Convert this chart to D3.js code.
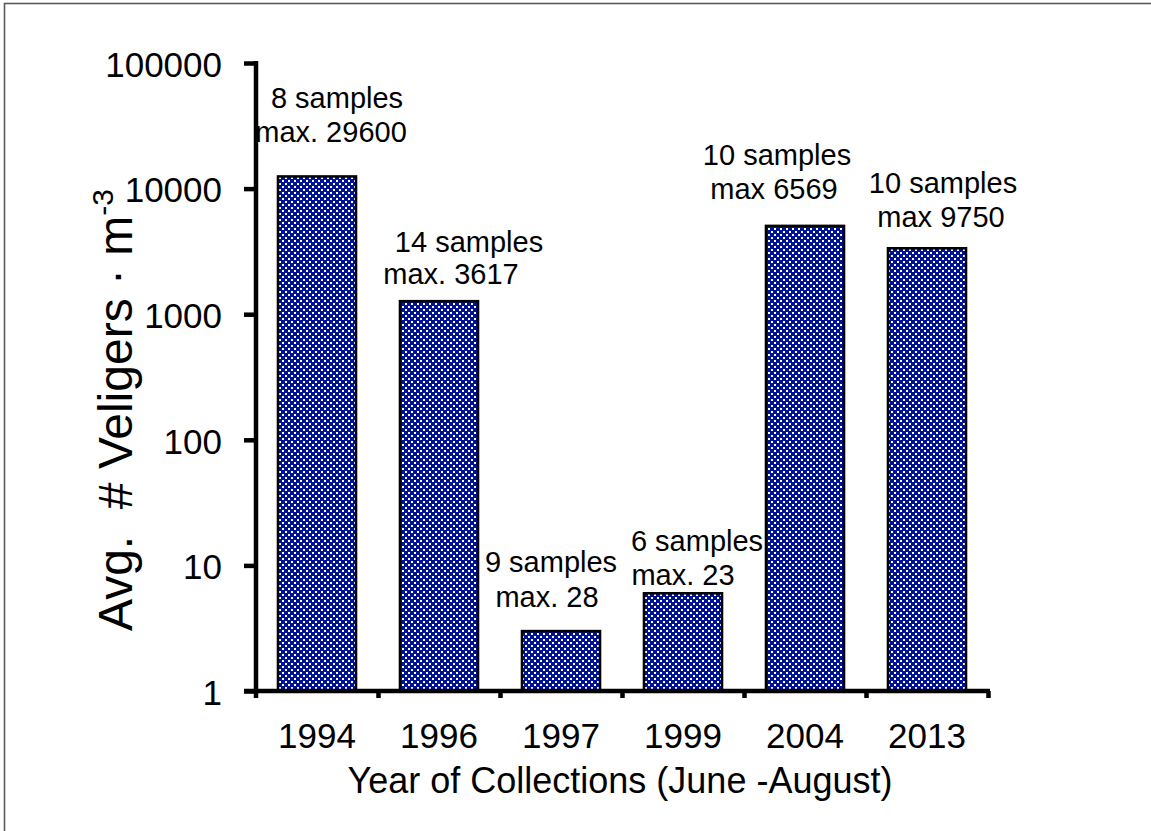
<!DOCTYPE html>
<html>
<head>
<meta charset="utf-8">
<script src="https://cdn.jsdelivr.net/npm/d3@7"></script>
<style>
  html, body { margin: 0; padding: 0; background: #fff; }
  svg { display: block; font-family: "Liberation Sans", Arial, sans-serif; }
</style>
</head>
<body>
<svg id="chart" width="1151" height="831"></svg>
<script>
// Collection years and average veliger densities (per m^3)
const years = ["1994", "1996", "1997", "1999", "2004", "2013"];
const avgVeligers = [12500, 1270, 3, 6, 5050, 3350];
const sampleCounts = [8, 14, 9, 6, 10, 10];
const maxLabels = ["max. 29600", "max. 3617", "max. 28", "max. 23", "max 6569", "max 9750"];
const yTicks = [1, 10, 100, 1000, 10000, 100000];

// Note placement: x offsets from the band centre, baselines in page pixels
const noteLine1 = [{ dx: 20, y: 108 }, { dx: 30, y: 252 }, { dx: -10, y: 572 }, { dx: 14, y: 551 }, { dx: -28, y: 165 }, { dx: 16, y: 193 }];
const noteLine2 = [{ dx: 14, y: 142 }, { dx: 12, y: 284 }, { dx: -14, y: 607 }, { dx: 0, y: 585 }, { dx: -31, y: 199 }, { dx: 14, y: 227 }];

const svg = d3.select("#chart");
const axisLeftX = 256, axisRightX = 988, axisBottomY = 691, axisTopY = 63;

// Outer frame
svg.append("rect")
  .attr("x", 4.5).attr("y", 3.5).attr("width", 1160).attr("height", 840)
  .attr("fill", "none").attr("stroke", "#5a5a5a").attr("stroke-width", 1.6);

// Navy fill with a white dot grid
const defs = svg.append("defs");
const pat = defs.append("pattern")
  .attr("id", "dots").attr("patternUnits", "userSpaceOnUse")
  .attr("width", 6).attr("height", 6);
pat.append("rect").attr("width", 6).attr("height", 6).attr("fill", "#001296");
pat.append("rect").attr("x", 0).attr("y", 0).attr("width", 2).attr("height", 2).attr("fill", "#ffffff");
pat.append("rect").attr("x", 3).attr("y", 3).attr("width", 2).attr("height", 2).attr("fill", "#ffffff");

const x = d3.scaleBand().domain(years).range([axisLeftX, axisRightX]).paddingInner(0.36).paddingOuter(0.18);
const y = d3.scaleLog().domain([1, 100000]).range([axisBottomY, axisTopY]);

// Bars
svg.append("g").selectAll("rect")
  .data(years)
  .join("rect")
  .attr("x", (d) => x(d))
  .attr("y", (d, i) => y(avgVeligers[i]))
  .attr("width", x.bandwidth())
  .attr("height", (d, i) => axisBottomY - y(avgVeligers[i]))
  .attr("fill", "url(#dots)")
  .attr("stroke", "#000").attr("stroke-width", 2.5);

// Y axis
const yAxis = svg.append("g")
  .attr("transform", `translate(${axisLeftX},0)`)
  .call(d3.axisLeft(y).tickValues(yTicks).tickFormat(d3.format("d")).tickSize(12).tickSizeOuter(0).tickPadding(22));
yAxis.select(".domain").attr("stroke", "#000").attr("stroke-width", 4.5)
  .attr("d", `M0,${axisTopY - 2}V${axisBottomY + 7}`);
yAxis.selectAll(".tick line").attr("stroke", "#000").attr("stroke-width", 4.5);
yAxis.selectAll(".tick text")
  .attr("font-size", 35).attr("fill", "#000").attr("dy", "0.38em")
  .style("font-family", "'Liberation Sans', Arial, sans-serif");

// X axis: boundary ticks between categories
const bounds = d3.scaleLinear().domain([0, years.length]).range([axisLeftX, axisRightX]);
const xAxis = svg.append("g")
  .attr("transform", `translate(0,${axisBottomY})`)
  .call(d3.axisBottom(bounds).tickValues(d3.range(1, years.length + 1)).tickFormat("").tickSize(7).tickSizeOuter(0));
xAxis.select(".domain").attr("stroke", "#000").attr("stroke-width", 4.5)
  .attr("d", `M${axisLeftX - 12},0H${axisRightX + 2}`);
xAxis.selectAll(".tick line").attr("stroke", "#000").attr("stroke-width", 4.5);

// Year labels
const yearAxis = svg.append("g")
  .attr("transform", `translate(0,${axisBottomY})`)
  .call(d3.axisBottom(x).tickSize(0).tickPadding(32));
yearAxis.select(".domain").remove();
yearAxis.selectAll(".tick text")
  .attr("font-size", 35).attr("fill", "#000")
  .style("font-family", "'Liberation Sans', Arial, sans-serif");

// Sample notes above bars
const notes = svg.append("g").attr("font-size", 29).attr("fill", "#000").attr("text-anchor", "middle");
years.forEach((yr, i) => {
  const cx = x(yr) + x.bandwidth() / 2;
  notes.append("text").attr("x", cx + noteLine1[i].dx).attr("y", noteLine1[i].y).text(`${sampleCounts[i]} samples`);
  notes.append("text").attr("x", cx + noteLine2[i].dx).attr("y", noteLine2[i].y).text(maxLabels[i]);
});

// Axis titles
svg.append("text")
  .attr("x", (axisLeftX + axisRightX) / 2 - 2).attr("y", 793)
  .attr("text-anchor", "middle").attr("font-size", 36).attr("fill", "#000")
  .text("Year of Collections (June -August)");

const yTitle = svg.append("text")
  .attr("transform", "translate(132,410) rotate(-90)")
  .attr("text-anchor", "middle").attr("font-size", 48).attr("fill", "#000")
  .attr("xml:space", "preserve");
yTitle.append("tspan").text("Avg.  # Veligers \u00b7 m");
yTitle.append("tspan").attr("font-size", 30).attr("dy", -19).text("-3");
</script>
</body>
</html>
